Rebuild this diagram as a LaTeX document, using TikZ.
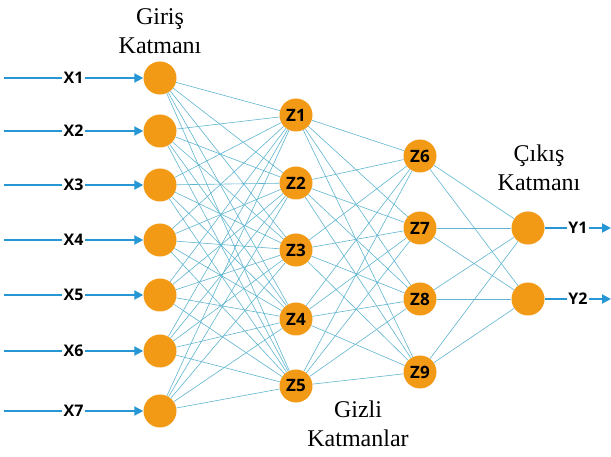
\documentclass[tikz,border=0pt]{standalone}
\usepackage{fontspec}
\setmainfont{Liberation Serif}
\newfontfamily\nnfont{Open Sans}
\usetikzlibrary{arrows.meta,positioning}
\definecolor{nnorange}{RGB}{242,153,22}
\definecolor{nnblue}{RGB}{38,150,212}
\definecolor{nnlink}{RGB}{95,180,208}

\begin{document}
\begin{tikzpicture}[x=1pt, y=-1pt,
  neuron/.style={circle, fill=nnorange, minimum size=33pt, inner sep=0pt,
    font=\nnfont\bfseries\fontsize{17}{17}\selectfont},
  link/.style={nnlink, line width=0.6pt},
  feed/.style={nnblue, line width=2pt, -{Triangle[length=9pt, width=9pt]}},
  tag/.style={fill=white, inner sep=1.5pt, text=black,
    font=\nnfont\bfseries\fontsize{16}{16}\selectfont},
  layername/.style={align=center, font=\fontsize{24}{29}\selectfont}]
  \useasboundingbox (0,0) rectangle (611,457);

  % input layer with its feeding arrows
  \foreach \i/\y in {1/78,2/131,3/185,4/240,5/295,6/351,7/411} {
    \node[neuron] (in\i) at (160,\y) {};
    \coordinate (src\i) at (4,\y);
  }
  % hidden layers and output layer
  \foreach \i/\y in {1/115,2/183,3/250,4/319,5/386}
    \node[neuron] (z\i) at (296,\y) {Z\i};
  \foreach \i/\y in {6/156,7/228,8/299,9/372}
    \node[neuron] (z\i) at (420,\y) {Z\i};
  \foreach \i/\y in {1/228,2/299} {
    \node[neuron] (out\i) at (528,\y) {};
    \coordinate (dst\i) at (611,\y);
  }

  % full connections between layers
  \foreach \i in {1,...,7}
    \foreach \j in {1,...,5}
      \draw[link] (in\i) -- (z\j);
  \foreach \i in {1,...,5}
    \foreach \j in {6,...,9}
      \draw[link] (z\i) -- (z\j);
  \foreach \i in {6,...,9}
    \foreach \j in {1,2}
      \draw[link] (z\i) -- (out\j);

  \foreach \i in {1,...,7}
    \draw[feed] (src\i) -- node[tag] {X\i} (in\i);
  \foreach \i in {1,2}
    \draw[feed] (out\i) -- node[tag] {Y\i} (dst\i);

  \node[layername] (ingiris) at (160,31) {Giriş\\Katmanı};
  \node[layername] (incikis) at (539,168) {Çıkış\\Katmanı};
  \node[layername] (ingizli) at (358,424) {Gizli\\Katmanlar};
\end{tikzpicture}
\end{document}
